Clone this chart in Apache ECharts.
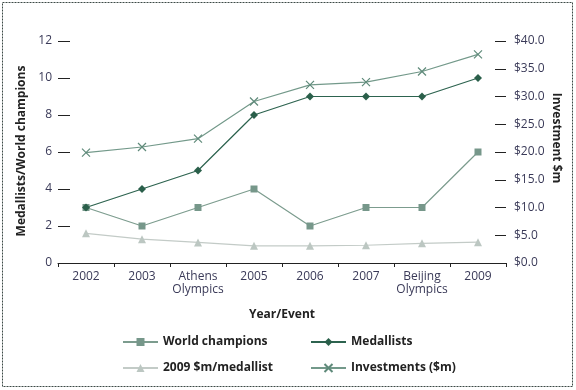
<!DOCTYPE html>
<html>
<head>
<meta charset="utf-8">
<script src="https://cdn.jsdelivr.net/npm/echarts@6/dist/echarts.min.js"></script>
<style>
html,body{margin:0;padding:0;background:#fff;}
#chart{width:576px;height:390px;}
</style>
</head>
<body>
<div id="chart"></div>
<script>
var categories = ['2002', '2003', 'Athens\nOlympics', '2005', '2006', '2007', 'Beijing\nOlympics', '2009'];
var worldChampions = [3, 2, 3, 4, 2, 3, 3, 6];
var medallists = [3, 4, 5, 8, 9, 9, 9, 10];
var perMedallist = [5.35, 4.3, 3.7, 3.1, 3.1, 3.2, 3.55, 3.75];
var investments = [19.9, 20.9, 22.4, 29.1, 32.1, 32.6, 34.5, 37.6];
var leftTicks = ['0', '2', '4', '6', '8', '10', '12'];
var rightTicks = ['$0.0', '$5.0', '$10.0', '$15.0', '$20.0', '$25.0', '$30.0', '$35.0', '$40.0'];

var FONT = '"Open Sans", "Noto Sans", sans-serif';
var chart = echarts.init(document.getElementById('chart'));
var xPath = 'path://M0,0L10,10M10,0L0,10';

chart.setOption({
  animation: false,
  backgroundColor: '#fff',
  textStyle: { fontFamily: FONT },
  grid: { left: 58, right: 70, top: 41, bottom: 127 },
  graphic: [
    { type: 'rect', shape: { x: 2.5, y: 2.5, width: 570, height: 384 },
      style: { fill: 'none', stroke: '#3c4a46', lineWidth: 1, lineDash: [2, 1] }, silent: true },
    { type: 'text', x: 22, y: 151, rotation: Math.PI / 2,
      style: { text: 'Medallists/World champions', font: 'bold 12px ' + FONT, fill: '#222',
        align: 'center', verticalAlign: 'middle' } },
    { type: 'text', x: 556, y: 138, rotation: -Math.PI / 2,
      style: { text: 'Investment $m', font: 'bold 12px ' + FONT, fill: '#222',
        align: 'center', verticalAlign: 'middle' } }
  ],
  legend: [
    { orient: 'vertical', left: 117, top: 331, itemWidth: 35, itemHeight: 10, itemGap: 14,
      textStyle: { fontFamily: FONT, fontSize: 12, fontWeight: 'bold', color: '#222' },
      data: ['World champions', '2009 $m/medallist'] },
    { orient: 'vertical', left: 305, top: 331, itemWidth: 35, itemHeight: 10, itemGap: 14,
      textStyle: { fontFamily: FONT, fontSize: 12, fontWeight: 'bold', color: '#222' },
      data: ['Medallists', 'Investments ($m)'] }
  ],
  xAxis: {
    type: 'category',
    data: categories,
    boundaryGap: true,
    name: 'Year/Event',
    nameLocation: 'middle',
    nameGap: 46,
    nameTextStyle: { fontFamily: FONT, fontSize: 12, fontWeight: 'bold', color: '#222' },
    axisLine: { show: true, lineStyle: { color: '#222', width: 1 } },
    axisTick: { show: true, length: 4, lineStyle: { color: '#222' } },
    axisLabel: { fontFamily: FONT, fontSize: 12, color: '#3a3a58', margin: 7, lineHeight: 13, interval: 0 }
  },
  yAxis: [
    {
      type: 'value', min: 0, max: 12, interval: 2, position: 'left',
      axisLine: { show: false },
      axisTick: { show: true, inside: true, length: 12, lineStyle: { color: '#222' } },
      splitLine: { show: false },
      axisLabel: { fontFamily: FONT, fontSize: 12, color: '#3a3a58', margin: 6,
        formatter: function (v) { return leftTicks[Math.round(v / 2)]; } }
    },
    {
      type: 'value', min: 0, max: 40, interval: 5, position: 'right',
      axisLine: { show: false },
      axisTick: { show: true, inside: true, length: 11, lineStyle: { color: '#222' } },
      splitLine: { show: false },
      axisLabel: { fontFamily: FONT, fontSize: 12, color: '#3a3a58', margin: 8,
        formatter: function (v) { return rightTicks[Math.round(v / 5)]; } }
    }
  ],
  series: [
    { name: 'World champions', type: 'line', yAxisIndex: 0, data: worldChampions,
      symbol: 'rect', symbolSize: 7,
      lineStyle: { color: '#7c9c8e', width: 1.2 },
      itemStyle: { color: '#76978a' } },
    { name: 'Medallists', type: 'line', yAxisIndex: 0, data: medallists,
      symbol: 'diamond', symbolSize: 8,
      lineStyle: { color: '#2d634f', width: 1.2 },
      itemStyle: { color: '#2a5f4a' } },
    { name: '2009 $m/medallist', type: 'line', yAxisIndex: 1, data: perMedallist,
      symbol: 'triangle', symbolSize: 8,
      lineStyle: { color: '#c3cbc7', width: 1.2 },
      itemStyle: { color: '#bcc7c2' } },
    { name: 'Investments ($m)', type: 'line', yAxisIndex: 1, data: investments,
      symbol: xPath, symbolSize: 8,
      lineStyle: { color: '#73998a', width: 1.2 },
      itemStyle: { color: 'rgba(0,0,0,0)', borderColor: '#5f8a7a', borderWidth: 1.2 } }
  ]
});
</script>
</body>
</html>
